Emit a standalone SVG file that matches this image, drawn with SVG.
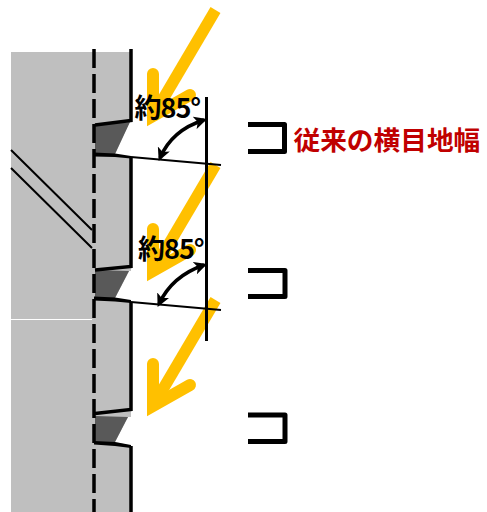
<svg xmlns="http://www.w3.org/2000/svg" width="487" height="512" viewBox="0 0 487 512">
<defs>
<marker id="h" viewBox="0 0 12 12" refX="9" refY="6" markerWidth="13" markerHeight="13" markerUnits="userSpaceOnUse" orient="auto-start-reverse"><path d="M0,0L12,6L0,12L3,6Z" fill="#000"/></marker>
<g id="sun"><path class="shaft" d="M215.500,10L153,116"/><path class="head" d="M153,74V116L190,95"/></g>
</defs>
<style>
.shaft{fill:none;stroke:#FFC000;stroke-width:11.500}
.head{fill:none;stroke:#FFC000;stroke-width:12;stroke-linecap:round;stroke-linejoin:miter}
.k{fill:none;stroke:#000;stroke-width:3.500}
.t{fill:none;stroke:#000;stroke-width:2}
.d{fill:#595959}
.cut{fill:#fff}
.br{fill:none;stroke:#000;stroke-width:5;stroke-linejoin:round}
.ang{fill:none;stroke:#000;stroke-width:3.500;marker-start:url(#h);marker-end:url(#h)}
.lab{font-family:"Noto Sans CJK JP",sans-serif;font-weight:700;font-size:27px;letter-spacing:-1px;fill:#000}
.red{font-family:"Noto Sans CJK JP",sans-serif;font-weight:700;font-size:26.700px;fill:#C00000}
</style>
<g id="wall">
<path d="M11,52H131V512H11Z" fill="#BFBFBF"/>
<path d="M11,319.500H92" stroke="#fff" stroke-width="1" fill="none"/>
<path class="t" d="M11,150L92,230M11,168L92,248"/>
</g>
<g id="notch1">
<path class="cut" d="M130,121L133,121V158L115,154Z"/>
<path class="d" d="M95,125L130,122L115,154H95Z"/>
<path class="k" d="M131,49V120.500L95,125"/>
<path d="M94,152.500L115,153.500L131,156V158.500L115,157L94,156.500Z" fill="#000"/>
</g>
<g id="notch2">
<path class="cut" d="M129,271H133V302L115,298Z"/>
<path class="d" d="M95,270L129,271L115,298H95Z"/>
<path class="k" d="M131,158V266.500L95,270"/>
<path d="M94,296.500L115,297.500L131,300V303L115,301.500L94,300.500Z" fill="#000"/>
</g>
<g id="notch3">
<path class="cut" d="M128,417H133V446L115,442Z"/>
<path class="d" d="M95,416L128,417L115,442H95Z"/>
<path class="k" d="M131,302V409.500L95,413.500"/>
<path d="M94,441L115,442L131,445V448L115,446L94,444.500Z" fill="#000"/>
<path class="k" d="M131,446V512"/>
</g>
<g id="dash"><path d="M94,49V512" stroke="#000" stroke-width="3.500" stroke-dasharray="19 6" fill="none"/></g>
<g id="arrows">
<use href="#sun"/>
<use href="#sun" y="155"/>
<use href="#sun" y="290"/>
</g>
<g id="connectors">
<path class="k" d="M206.500,97V341" style="stroke-width:3"/>
<path class="t" d="M131,157L221,165"/>
<path class="t" d="M131,302L221,310"/>
<path class="ang" d="M204,120Q172,130 160,158"/>
<path class="ang" d="M204,265Q172,276 159,304"/>
</g>
<g id="brackets">
<path class="br" d="M248,124.500H284.500V151.500H248"/>
<path class="br" d="M248,270.500H285V296.500H248"/>
<path class="br" d="M248,415H285V441.500H248"/>
</g>
<g id="labels">
<text class="lab" x="134.500" y="118">約85°</text>
<text class="lab" x="138" y="259">約85°</text>
<text class="red" x="293.500" y="150">従来の横目地幅</text>
</g>
</svg>
